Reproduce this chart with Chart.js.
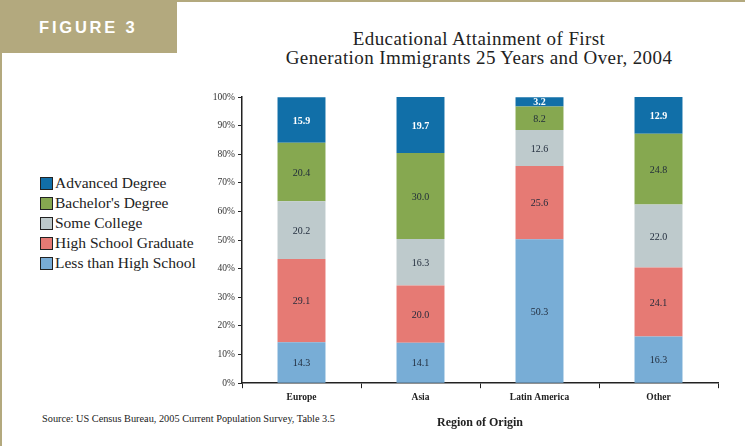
<!DOCTYPE html>
<html><head><meta charset="utf-8">
<script src="https://cdn.jsdelivr.net/npm/chart.js@4.4.1/dist/chart.umd.min.js"></script>
<style>
html,body{margin:0;padding:0;background:#fff;}
#wrap{position:relative;width:745px;height:446px;overflow:hidden;background:#fff;}
#leftline{position:absolute;left:0;top:0;width:2px;height:446px;background:#B3A97E;}
#topline{position:absolute;left:177px;top:0;width:568px;height:2px;background:#B3A97E;}
#figbox{position:absolute;left:0;top:0;width:177px;height:53px;background:#B3A97E;color:#fff;font:bold 16.5px "Liberation Sans",Arial,sans-serif;letter-spacing:2.8px;}
#figbox span{position:absolute;left:39px;top:18px;white-space:nowrap;}
#title{position:absolute;left:229px;width:500px;top:29px;text-align:center;font:19px "Liberation Serif",serif;letter-spacing:0.4px;color:#222;line-height:19px;}
#legend{position:absolute;left:40px;top:173px;font:15.5px "Liberation Serif",serif;color:#222;}
.li{height:20px;display:flex;align-items:center;white-space:nowrap;}
.sw{width:11px;height:11px;border:1px solid #222;margin-right:2px;flex:none;}
#source{position:absolute;left:42px;top:413px;font:10.3px "Liberation Serif",serif;color:#222;white-space:nowrap;}
canvas{position:absolute;left:0;top:0;}
</style>
</head>
<body>
<div id="wrap">
  <div id="leftline"></div>
  <div id="topline"></div>
  <div id="figbox"><span>FIGURE 3</span></div>
  <div id="title"></div>
  <div id="legend"></div>
  <div id="source"></div>
  <canvas id="c" width="745" height="446"></canvas>
</div>
<script>
const categories = ['Europe', 'Asia', 'Latin America', 'Other'];
const lessThanHighSchool = [14.3, 14.1, 50.3, 16.3];
const highSchoolGraduate = [29.1, 20.0, 25.6, 24.1];
const someCollege = [20.2, 16.3, 12.6, 22.0];
const bachelorsDegree = [20.4, 30.0, 8.2, 24.8];
const advancedDegree = [15.9, 19.7, 3.2, 12.9];
const seriesNames = ['Less than High School', 'High School Graduate', 'Some College', "Bachelor's Degree", 'Advanced Degree'];
const seriesValues = [lessThanHighSchool, highSchoolGraduate, someCollege, bachelorsDegree, advancedDegree];
const seriesColors = ['#78ADD6', '#E67A74', '#BECACC', '#86A850', '#116FA8'];
const yTickValues = [0, 10, 20, 30, 40, 50, 60, 70, 80, 90, 100];
const titleLines = ['Educational Attainment of First', 'Generation Immigrants 25 Years and Over, 2004'];
const xAxisTitle = 'Region of Origin';
const sourceText = 'Source: US Census Bureau, 2005 Current Population Survey, Table 3.5';

document.getElementById('title').innerHTML = titleLines.join('<br>');
document.getElementById('source').textContent = sourceText;
const legendEl = document.getElementById('legend');
for (let i = seriesNames.length - 1; i >= 0; i--) {
  const row = document.createElement('div'); row.className = 'li';
  const sw = document.createElement('div'); sw.className = 'sw'; sw.style.background = seriesColors[i];
  const tx = document.createElement('span'); tx.textContent = seriesNames[i];
  row.appendChild(sw); row.appendChild(tx); legendEl.appendChild(row);
}

const valueLabels = {
  id: 'valueLabels',
  afterDatasetsDraw(chart) {
    const ctx = chart.ctx;
    const area = chart.chartArea;
    chart.data.datasets.forEach((ds, i) => {
      const meta = chart.getDatasetMeta(i);
      meta.data.forEach((bar, j) => {
        const v = ds.data[j];
        const p = bar.getProps(['x', 'y', 'base'], true);
        const top = Math.max(p.y, area.top);
        const cy = (top + p.base) / 2;
        ctx.save();
        const isTop = i === seriesNames.length - 1;
        ctx.font = (isTop ? 'bold ' : '') + '10px "Liberation Serif", serif';
        ctx.fillStyle = isTop ? '#ffffff' : '#1f2a3a';
        ctx.textAlign = 'center';
        ctx.textBaseline = 'middle';
        ctx.fillText(v.toFixed(1), p.x, cy + 1);
        ctx.restore();
      });
    });
  }
};

new Chart(document.getElementById('c'), {
  type: 'bar',
  data: {
    labels: categories,
    datasets: seriesNames.map((n, i) => ({
      label: n,
      data: seriesValues[i],
      backgroundColor: seriesColors[i],
      borderWidth: 0,
      barPercentage: 0.403,
      categoryPercentage: 1.0
    }))
  },
  options: {
    responsive: false,
    animation: false,
    devicePixelRatio: 1,
    layout: { padding: { left: 202, right: 27, top: 97, bottom: 14 } },
    plugins: { legend: { display: false }, tooltip: { enabled: false }, title: { display: false } },
    scales: {
      x: {
        stacked: true,
        grid: { display: true, drawOnChartArea: false, tickLength: 5, color: '#222', lineWidth: 1 },
        border: { color: '#222', width: 1.5 },
        ticks: { font: { family: 'Liberation Serif', size: 9.5, weight: 'bold' }, color: '#222', padding: 4 },
        title: { display: true, text: xAxisTitle, font: { family: 'Liberation Serif', size: 12, weight: 'bold' }, color: '#222', padding: { top: 8, bottom: 2 } }
      },
      y: {
        stacked: true, min: 0, max: 100,
        afterBuildTicks(s) { s.ticks = yTickValues.map(v => ({ value: v })); },
        afterFit(s) { s.width = 40; },
        ticks: { callback: v => v + '%', font: { family: 'Liberation Serif', size: 9.5 }, color: '#333', padding: 3 },
        grid: { drawOnChartArea: false, tickLength: 4, color: '#222' },
        border: { color: '#222', width: 1.5 }
      }
    }
  },
  plugins: [valueLabels]
});
</script>
</body></html>
